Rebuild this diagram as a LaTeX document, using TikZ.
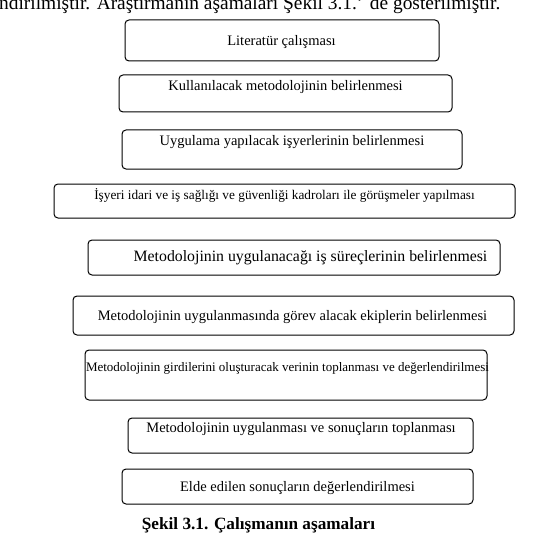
\documentclass[tikz,border=0pt]{standalone}
\usepackage{fontspec}
\setmainfont{Liberation Serif}
\begin{document}
\begin{tikzpicture}[x=1pt, y=-1pt,
    kutu/.style={draw, rounded corners=4pt, line width=1pt, inner sep=0pt},
    metin/.style={inner sep=0pt, font=\fontsize{14.5}{16}\selectfont}]
    \clip (0,0) rectangle (538,556);
    \node[anchor=base west, inner sep=0pt, font=\fontsize{19.4}{22}\selectfont] (ust) at (-1,9.5) {ndirilmiştir. Araştırmanın aşamaları Şekil 3.1.' de gösterilmiştir.};

    % kutular
    \node[kutu, minimum width=314, minimum height=41] (k1) at (282,40.5) {};
    \node[kutu, minimum width=333, minimum height=37] (k2) at (285.5,93.5) {};
    \node[kutu, minimum width=340, minimum height=39] (k3) at (292,149.5) {};
    \node[kutu, minimum width=461, minimum height=34] (k4) at (284.5,201) {};
    \node[kutu, minimum width=412, minimum height=35] (k5) at (294,257.5) {};
    \node[kutu, minimum width=441, minimum height=39] (k6) at (293.5,315.5) {};
    \node[kutu, minimum width=402, minimum height=50] (k7) at (286,375) {};
    \node[kutu, minimum width=345, minimum height=35] (k8) at (300.5,435.5) {};
    \node[kutu, minimum width=351, minimum height=35] (k9) at (297.5,486.5) {};

    % metinler
    \node[metin] (m1) at (281.5,42) {Literatür çalışması};
    \node[metin] (m2) at (285.5,87) {Kullanılacak metodolojinin belirlenmesi};
    \node[metin] (m3) at (292,142) {Uygulama yapılacak işyerlerinin belirlenmesi};
    \node[metin, font=\fontsize{13.3}{15}\selectfont] (m4) at (284.5,195) {İşyeri idari ve iş sağlığı ve güvenliği kadroları ile görüşmeler yapılması};
    \node[metin, font=\fontsize{15.8}{17}\selectfont] (m5) at (310.5,258) {Metodolojinin uygulanacağı iş süreçlerinin belirlenmesi};
    \node[metin] (m6) at (292.5,317) {Metodolojinin uygulanmasında görev alacak ekiplerin belirlenmesi};
    \node[metin, font=\fontsize{13}{15}\selectfont] (m7) at (287.5,368) {Metodolojinin girdilerini oluşturacak verinin toplanması ve değerlendirilmesi};
    \node[metin] (m8) at (301,429) {Metodolojinin uygulanması ve sonuçların toplanması};
    \node[metin] (m9) at (297.5,488) {Elde edilen sonuçların değerlendirilmesi};

    \node[inner sep=0pt, font=\fontsize{17.2}{19}\selectfont\bfseries] (baslik) at (258.5,525) {Şekil 3.1. Çalışmanın aşamaları};
\end{tikzpicture}
\end{document}
